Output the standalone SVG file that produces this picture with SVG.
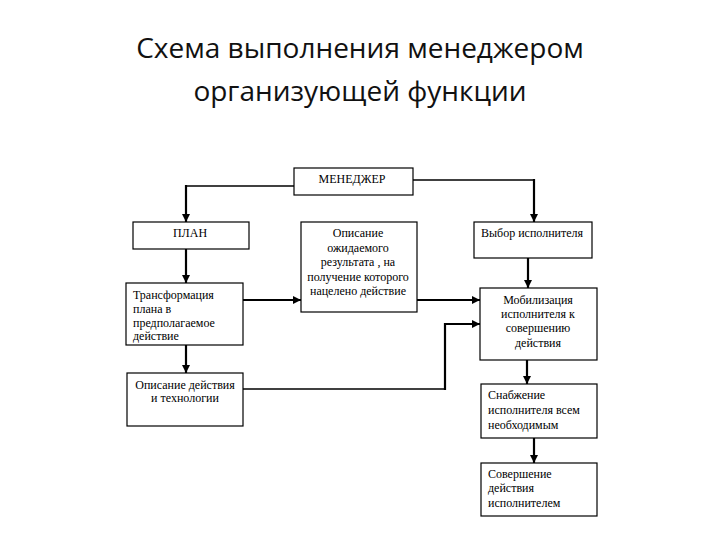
<svg xmlns="http://www.w3.org/2000/svg" width="720" height="540" viewBox="0 0 720 540">
<style>
.title{font-family:"Open Sans","DejaVu Sans",sans-serif;font-size:28px;fill:#111;text-anchor:middle}
.box{fill:#fff;stroke:#000;stroke-width:1.2}
.t{font-family:"Liberation Serif","Times New Roman",serif;font-size:12px;fill:#000}
.c{text-anchor:middle}
.ln{fill:none;stroke:#000;stroke-width:2.2}
.thin{stroke-width:1.4}
</style>
<defs>
<marker id="ah" markerUnits="userSpaceOnUse" markerWidth="8" markerHeight="8" refX="8" refY="4" orient="auto">
<path d="M0,0 L8,4 L0,8 Z" fill="#000"/>
</marker>
</defs>
<rect width="720" height="540" fill="#fff"/>
<g id="title">
<text class="title" x="360" y="58">Схема выполнения менеджером</text>
<text class="title" x="360" y="101">организующей функции</text>
</g>
<g id="connectors">
<path class="ln thin" d="M294,186 H186"/>
<path class="ln" d="M186,185 V222" marker-end="url(#ah)"/>
<path class="ln thin" d="M413,180 H534"/>
<path class="ln" d="M534,179 V222" marker-end="url(#ah)"/>
<path class="ln" d="M186,249 V283" marker-end="url(#ah)"/>
<path class="ln" d="M186,345 V373" marker-end="url(#ah)"/>
<path class="ln" d="M243,300 H301" marker-end="url(#ah)"/>
<path class="ln" d="M417,300 H480" marker-end="url(#ah)"/>
<path class="ln" d="M528,258 V288" marker-end="url(#ah)"/>
<path class="ln thin" d="M243,389 H445"/>
<path class="ln" d="M445,390 V324 H480" marker-end="url(#ah)"/>
<path class="ln" d="M527,360 V384" marker-end="url(#ah)"/>
<path class="ln" d="M534,438 V463" marker-end="url(#ah)"/>
</g>
<g id="manager">
<rect class="box" x="294" y="168" width="119" height="27"/>
<text class="t c" x="352" y="183">МЕНЕДЖЕР</text>
</g>
<g id="plan">
<rect class="box" x="133" y="222" width="116" height="27"/>
<text class="t c" x="190" y="237">ПЛАН</text>
</g>
<g id="transform">
<rect class="box" x="126" y="283" width="117" height="62"/>
<text class="t" x="133" y="299">Трансформация</text>
<text class="t" x="133" y="313">плана в</text>
<text class="t" x="133" y="327">предполагаемое</text>
<text class="t" x="133" y="340">действие</text>
</g>
<g id="action-desc">
<rect class="box" x="127" y="373" width="116" height="53"/>
<text class="t c" x="185" y="389">Описание действия</text>
<text class="t c" x="185" y="402">и технологии</text>
</g>
<g id="result-desc">
<rect class="box" x="301" y="222" width="116" height="90"/>
<text class="t c" x="358" y="237">Описание</text>
<text class="t c" x="358" y="252">ожидаемого</text>
<text class="t c" x="358" y="266">результата , на</text>
<text class="t c" x="358" y="281">получение которого</text>
<text class="t c" x="358" y="295">нацелено действие</text>
</g>
<g id="choose">
<rect class="box" x="474" y="222" width="118" height="36"/>
<text class="t" x="481" y="237">Выбор исполнителя</text>
</g>
<g id="mobilize">
<rect class="box" x="480" y="288" width="117" height="72"/>
<text class="t c" x="538" y="304">Мобилизация</text>
<text class="t c" x="538" y="318">исполнителя к</text>
<text class="t c" x="538" y="332">совершению</text>
<text class="t c" x="538" y="347">действия</text>
</g>
<g id="supply">
<rect class="box" x="481" y="384" width="116" height="54"/>
<text class="t" x="488" y="399">Снабжение</text>
<text class="t" x="488" y="414">исполнителя всем</text>
<text class="t" x="488" y="429">необходимым</text>
</g>
<g id="perform">
<rect class="box" x="481" y="463" width="116" height="53"/>
<text class="t" x="488" y="478">Совершение</text>
<text class="t" x="488" y="492">действия</text>
<text class="t" x="488" y="507">исполнителем</text>
</g>
</svg>
